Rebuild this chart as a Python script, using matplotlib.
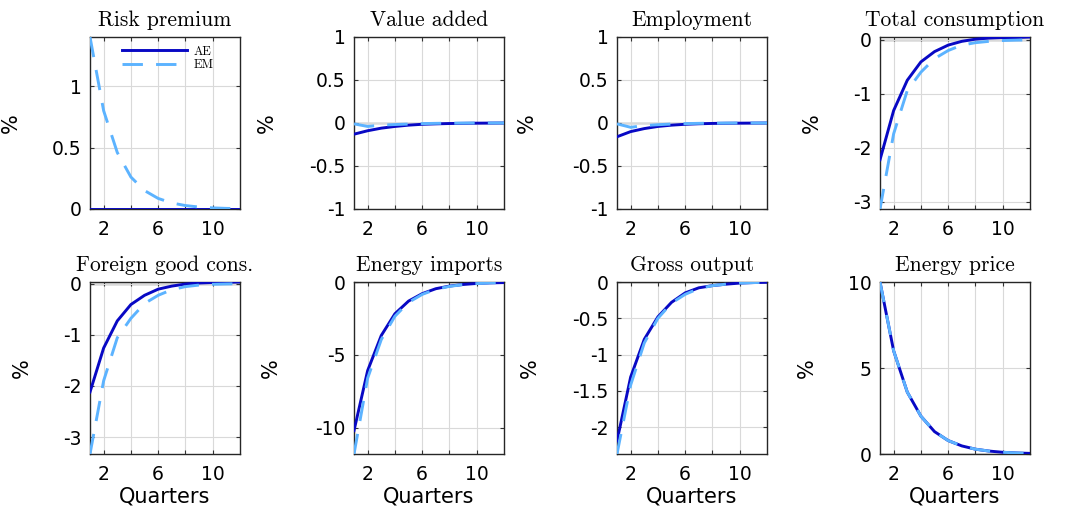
import matplotlib
matplotlib.use("Agg")
import matplotlib.pyplot as plt
from matplotlib.ticker import FormatStrFormatter

plt.rcParams["axes.unicode_minus"] = False
plt.rcParams["font.family"] = ["DejaVu Sans"]

# impulse responses, quarters 1..12
quarters = list(range(1, 13))

risk_ae = [0.0] * 12
risk_em = [1.4, 0.80, 0.46, 0.26, 0.15, 0.086, 0.049, 0.028, 0.016, 0.009, 0.005, 0.003]

va_ae = [-0.13, -0.09, -0.06, -0.04, -0.025, -0.015, -0.01, -0.006, -0.004, -0.002, -0.001, 0.0]
va_em = [-0.01, -0.04, -0.025, -0.018, -0.012, -0.007, -0.004, -0.002, -0.001, 0.0, 0.0, 0.0]

emp_ae = [-0.16, -0.10, -0.065, -0.04, -0.025, -0.015, -0.009, -0.005, -0.003, -0.002, -0.001, 0.0]
emp_em = [-0.01, -0.05, -0.03, -0.02, -0.012, -0.007, -0.004, -0.002, -0.001, 0.0, 0.0, 0.0]

cons_ae = [-2.22, -1.31, -0.75, -0.41, -0.22, -0.10, -0.03, 0.01, 0.03, 0.04, 0.04, 0.05]
cons_em = [-3.13, -1.74, -0.94, -0.60, -0.35, -0.20, -0.10, -0.055, -0.03, -0.015, -0.008, -0.004]

fcons_ae = [-2.12, -1.26, -0.73, -0.41, -0.23, -0.11, -0.05, -0.01, 0.01, 0.02, 0.025, 0.03]
fcons_em = [-3.33, -1.90, -1.06, -0.68, -0.39, -0.23, -0.12, -0.06, -0.03, -0.015, -0.008, -0.004]

eimp_ae = [-10.2, -6.08, -3.67, -2.18, -1.31, -0.80, -0.46, -0.28, -0.17, -0.10, -0.06, -0.04]
eimp_em = [-11.8, -6.6, -3.95, -2.35, -1.40, -0.85, -0.50, -0.30, -0.18, -0.11, -0.06, -0.04]

gout_ae = [-2.19, -1.31, -0.79, -0.48, -0.28, -0.15, -0.08, -0.05, -0.03, -0.015, -0.008, -0.004]
gout_em = [-2.37, -1.42, -0.84, -0.50, -0.29, -0.17, -0.09, -0.05, -0.03, -0.015, -0.008, -0.004]

eprice_ae = [10.0, 6.0, 3.6, 2.2, 1.3, 0.78, 0.47, 0.28, 0.17, 0.10, 0.06, 0.036]
eprice_em = [10.0, 6.0, 3.6, 2.2, 1.3, 0.78, 0.47, 0.28, 0.17, 0.10, 0.06, 0.036]

titles = ["Risk premium", "Value added", "Employment", "Total consumption",
          "Foreign good cons.", "Energy imports", "Gross output", "Energy price"]
series_ae = [risk_ae, va_ae, emp_ae, cons_ae, fcons_ae, eimp_ae, gout_ae, eprice_ae]
series_em = [risk_em, va_em, emp_em, cons_em, fcons_em, eimp_em, gout_em, eprice_em]
yticks = [[0, 0.5, 1], [-1, -0.5, 0, 0.5, 1], [-1, -0.5, 0, 0.5, 1], [-3, -2, -1, 0],
          [-3, -2, -1, 0], [-10, -5, 0], [-2, -1.5, -1, -0.5, 0], [0, 5, 10]]
fixed_ylim = [None, (-1, 1), (-1, 1), None, None, None, None, None]

AE_COLOR = "#0808c4"
EM_COLOR = "#5cb3ff"

W, H = 1077, 508
fig = plt.figure(figsize=(W / 100, H / 100), dpi=100)

lefts = [90, 354, 617, 880]
tops = [37, 282]
aw, ah = 150, 172
ylab_off = [69, 77, 80, 58, 58, 73, 77, 63]

for i in range(8):
    r, c = divmod(i, 4)
    ax = fig.add_axes([lefts[c] / W, 1 - (tops[r] + ah) / H, aw / W, ah / H])
    ax.axhline(0, color="0.45", lw=1.0, zorder=1)
    ax.plot(quarters, series_ae[i], color=AE_COLOR, lw=2.1, label="AE", zorder=3)
    ax.plot(quarters, series_em[i], color=EM_COLOR, lw=2.1, dashes=(7, 4.5),
            label="EM", zorder=4)

    ax.set_xlim(1, 12)
    if fixed_ylim[i] is None:
        lo = min(min(series_ae[i]), min(series_em[i]), 0)
        hi = max(max(series_ae[i]), max(series_em[i]), 0)
        ax.set_ylim(lo, hi)
    else:
        ax.set_ylim(*fixed_ylim[i])

    ax.set_xticks([2, 4, 6, 8, 10])
    ax.set_xticklabels(["2", "", "6", "", "10"])
    ax.set_yticks(yticks[i])
    ax.yaxis.set_major_formatter(FormatStrFormatter("%g"))
    ax.tick_params(direction="in", length=3, width=0.8, color="0.2",
                   top=True, right=True, labelsize=13.5, pad=6)
    ax.tick_params(axis="x", pad=8)
    ax.grid(True, color="0.85", lw=0.8)
    for s in ax.spines.values():
        s.set_color("0.15")
        s.set_linewidth(1.0)

    ax.set_title(titles[i], family="cmr10", fontsize=15.5, pad=8)
    ax.set_ylabel("%", fontsize=15)
    ax.yaxis.set_label_coords(-ylab_off[i] / aw, 0.5)
    if r == 1:
        ax.set_xlabel("Quarters", fontsize=15, labelpad=2)

    if i == 0:
        ax.legend(loc="upper left", bbox_to_anchor=(0.21, 0.95), frameon=False,
                  borderpad=0, borderaxespad=0, handlelength=5.2,
                  handletextpad=0.6, labelspacing=0.1,
                  prop={"family": "cmr10", "size": 9})

fig.savefig("out.png", dpi=100)
